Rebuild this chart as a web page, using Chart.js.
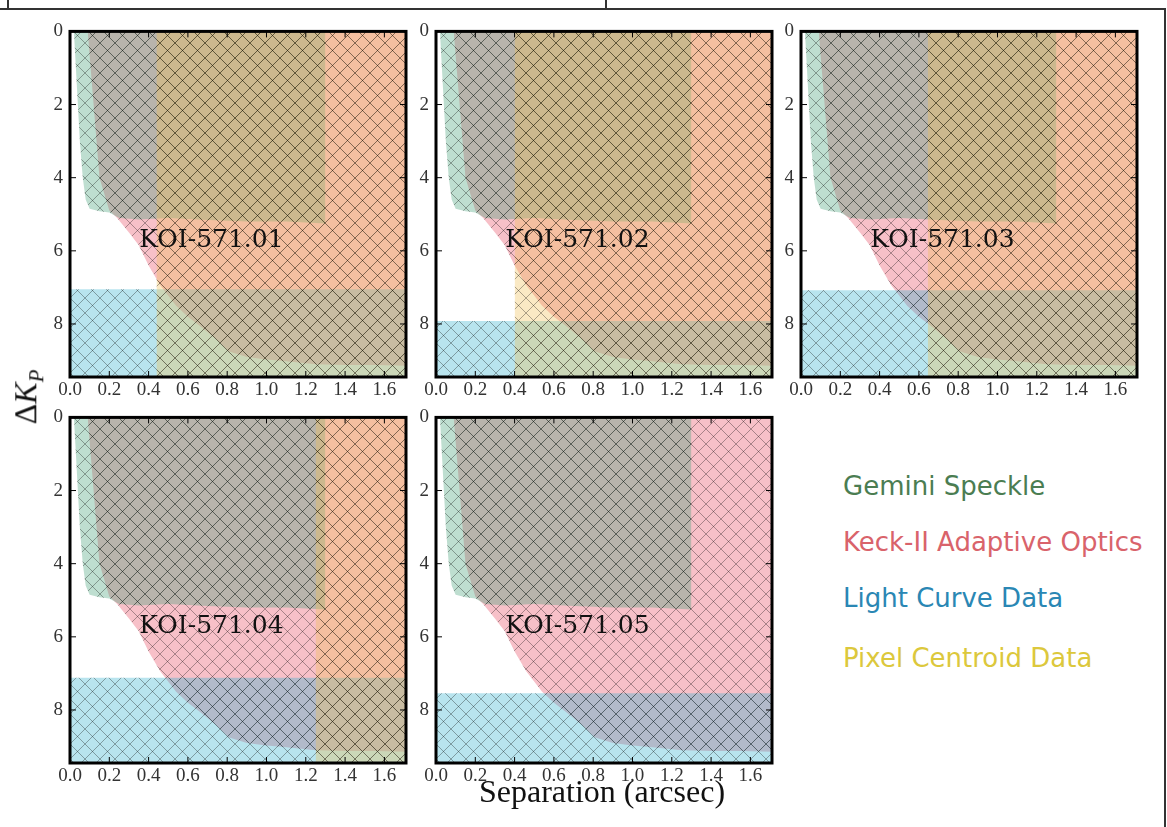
<!DOCTYPE html>
<html>
<head>
<meta charset="utf-8">
<script src="https://cdn.jsdelivr.net/npm/chart.js@4.4.1/dist/chart.umd.min.js"></script>
<style>
  body { margin: 0; width: 1167px; height: 827px; background: #fff; position: relative; overflow: hidden; }
  canvas { position: absolute; }
  .rule { position: absolute; background: #333; }
  .legend { position: absolute; left: 843px; font: 26px 'DejaVu Sans', sans-serif; line-height: 26px; white-space: nowrap; }
  #xlab { position: absolute; left: 602px; top: 775px; transform: translateX(-50%); font: 32px 'Liberation Serif', serif; line-height: 32px; white-space: nowrap; color: #111; }
  #ylab { position: absolute; left: 31px; top: 397px; transform: translate(-50%, -50%) rotate(-90deg); font: 32px 'Liberation Serif', serif; line-height: 34px; white-space: nowrap; color: #111; }
  #ylab sub { font-size: 21px; }
</style>
</head>
<body>
<div class="rule" style="left:0; top:8px; width:1166px; height:1.5px"></div>
<div class="rule" style="left:7px; top:0; width:1.5px; height:9px"></div>
<div class="rule" style="left:605px; top:0; width:1.5px; height:9px"></div>
<div class="rule" style="left:1164px; top:8px; width:1.5px; height:819px"></div>

<canvas id="p0" width="393" height="392" style="left:25px; top:13px"></canvas>
<canvas id="p1" width="393" height="392" style="left:391px; top:13px"></canvas>
<canvas id="p2" width="393" height="392" style="left:756px; top:13px"></canvas>
<canvas id="p3" width="393" height="392" style="left:25px; top:399px"></canvas>
<canvas id="p4" width="393" height="392" style="left:391px; top:399px"></canvas>

<div id="ylab">Δ<i>K</i><sub><i>P</i></sub></div>
<div id="xlab">Separation (arcsec)</div>

<div class="legend" style="top:473px; color:#4b7d52">Gemini Speckle</div>
<div class="legend" style="top:529px; color:#d9636b">Keck-II Adaptive Optics</div>
<div class="legend" style="top:585px; color:#2a87b4">Light Curve Data</div>
<div class="legend" style="top:645px; color:#dcc83c">Pixel Centroid Data</div>

<script>
// panels
const panelNames = ['KOI-571.01', 'KOI-571.02', 'KOI-571.03', 'KOI-571.04', 'KOI-571.05']
// light curve limit (delta Kp) and pixel centroid limit (arcsec) per panel
const lightCurveDk = [7.05, 7.92, 7.08, 7.12, 7.54]
const centroidSep = [0.44, 0.40, 0.645, 1.25, null]

// Gemini speckle contrast curve (same star for every panel)
const speckleSep = [0.02, 0.03, 0.04, 0.05, 0.065, 0.08, 0.1, 0.15, 0.2, 0.25, 0.35, 0.5, 0.7, 0.9, 1.1, 1.3, 1.3]
const speckleDk = [0, 1, 2, 3, 4, 4.6, 4.85, 4.92, 4.95, 5.1, 5.14, 5.1, 5.16, 5.2, 5.2, 5.25, 0]

// Keck-II AO contrast curve
const aoSep = [0.09, 0.12, 0.15, 0.2, 0.24, 0.3, 0.35, 0.4, 0.46, 0.54, 0.6, 0.66, 0.74, 0.81, 0.9, 1.0, 1.1, 1.25, 1.4, 1.55, 1.75]
const aoDk = [0, 2, 4, 4.9, 5.1, 5.5, 5.85, 6.4, 6.95, 7.5, 7.8, 8.05, 8.4, 8.75, 8.9, 8.97, 9.02, 9.1, 9.12, 9.12, 9.15]

const xMax = 1.71
const yMax = 9.45

const colors = {
  speckle: 'rgba(69,161,121,0.35)',
  ao: 'rgba(232,75,98,0.35)',
  light: 'rgba(52,178,206,0.35)',
  centroid: 'rgba(241,192,86,0.35)',
}

function hatch(ctx, color) {
  const tile = document.createElement('canvas')
  tile.width = 15
  tile.height = 15
  const g = tile.getContext('2d')
  g.fillStyle = color
  g.fillRect(0, 0, 15, 15)
  g.strokeStyle = 'rgba(0,0,0,0.32)'
  g.lineWidth = 1
  g.beginPath()
  g.moveTo(-2, -2); g.lineTo(17, 17)
  g.moveTo(-2, 17); g.lineTo(17, -2)
  g.stroke()
  return ctx.createPattern(tile, 'repeat')
}

function pts(xs, ys) {
  return xs.map((x, i) => ({ x: x, y: ys[i] }))
}

// frame, inward ticks and panel name
const framePlugin = {
  id: 'frame',
  afterDraw(chart, args, opts) {
    const { ctx, chartArea: a, scales: { x, y } } = chart
    ctx.save()
    ctx.strokeStyle = '#000'
    ctx.lineWidth = 1
    ctx.beginPath()
    x.ticks.forEach((t) => {
      const px = x.getPixelForValue(t.value)
      ctx.moveTo(px, a.bottom); ctx.lineTo(px, a.bottom - 6)
      ctx.moveTo(px, a.top); ctx.lineTo(px, a.top + 6)
    })
    y.ticks.forEach((t) => {
      const py = y.getPixelForValue(t.value)
      ctx.moveTo(a.left, py); ctx.lineTo(a.left + 6, py)
      ctx.moveTo(a.right, py); ctx.lineTo(a.right - 6, py)
    })
    ctx.stroke()
    ctx.lineWidth = 3
    ctx.strokeRect(a.left, a.top, a.right - a.left, a.bottom - a.top)
    ctx.font = '25px "DejaVu Serif", serif'
    ctx.fillStyle = '#111'
    ctx.textAlign = 'center'
    ctx.textBaseline = 'middle'
    ctx.fillText(opts.name, x.getPixelForValue(0.72), y.getPixelForValue(5.72))
    ctx.restore()
  },
}

const tickFont = { family: 'Liberation Serif', size: 19 }

panelNames.forEach((name, i) => {
  const canvas = document.getElementById('p' + i)
  const ctx = canvas.getContext('2d')
  // first dataset ends up on top
  const datasets = []
  if (centroidSep[i] !== null) {
    datasets.push({
      label: 'Pixel Centroid Data',
      data: pts([centroidSep[i], xMax], [0, 0]),
      backgroundColor: hatch(ctx, colors.centroid),
      fill: { value: yMax },
    })
  }
  datasets.push({
    label: 'Light Curve Data',
    data: pts([0, xMax], [lightCurveDk[i], lightCurveDk[i]]),
    backgroundColor: hatch(ctx, colors.light),
    fill: { value: yMax },
  })
  datasets.push({
    label: 'Gemini Speckle',
    data: pts(speckleSep, speckleDk),
    backgroundColor: hatch(ctx, colors.speckle),
    fill: { value: 0 },
  })
  datasets.push({
    label: 'Keck-II Adaptive Optics',
    data: pts(aoSep, aoDk),
    backgroundColor: hatch(ctx, colors.ao),
    fill: { value: 0 },
  })
  datasets.forEach((d) => {
    d.type = 'line'
    d.borderWidth = 0
    d.pointRadius = 0
    d.tension = 0
  })

  new Chart(ctx, {
    type: 'scatter',
    data: { datasets: datasets },
    options: {
      responsive: false,
      animation: false,
      layout: { padding: { top: 12, right: 12 } },
      plugins: {
        legend: { display: false },
        tooltip: { enabled: false },
        frame: { name: name },
      },
      scales: {
        x: {
          type: 'linear',
          min: 0,
          max: xMax,
          grid: { display: false, drawTicks: false },
          border: { display: false },
          ticks: {
            stepSize: 0.2,
            includeBounds: false,
            padding: 2,
            maxRotation: 0,
            autoSkip: false,
            color: '#333',
            font: tickFont,
            callback: (v) => v.toFixed(1),
          },
          afterFit: (s) => { s.height = 28 },
        },
        y: {
          type: 'linear',
          reverse: true,
          min: 0,
          max: yMax,
          grid: { display: false, drawTicks: false },
          border: { display: false },
          ticks: {
            stepSize: 2,
            includeBounds: false,
            padding: 7,
            color: '#333',
            font: tickFont,
          },
          afterFit: (s) => { s.width = 45 },
        },
      },
    },
    plugins: [framePlugin],
  })
})
</script>
</body>
</html>
